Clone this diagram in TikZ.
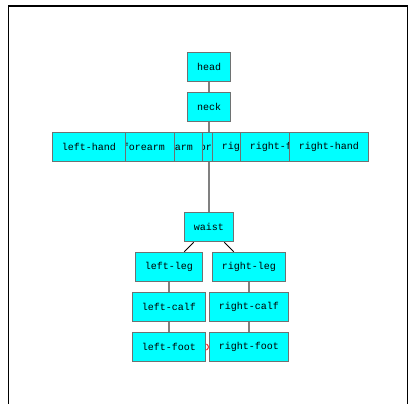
\documentclass[tikz,border=0pt]{standalone}
\usepackage{fontspec}
\setmonofont{Liberation Mono}
\usetikzlibrary{backgrounds,calc}
\definecolor{boxfill}{HTML}{00FFFF}
\definecolor{boxline}{HTML}{6E7272}
\definecolor{edgegray}{HTML}{808080}
\tikzset{
  part/.style={draw=boxline, line width=1.6pt, fill=boxfill, inner xsep=9.5pt, inner ysep=0pt,
    minimum height=29pt, font=\ttfamily\fontsize{10}{12}\selectfont},
  link/.style={draw=edgegray, line width=1.2pt},
  dlink/.style={draw=black, line width=0.9pt},
  frameline/.style={draw=black, line width=1.2pt}
}
\begin{document}
\begin{tikzpicture}[x=1pt,y=-1pt]
\useasboundingbox (0,0) rectangle (415,404);
\draw[frameline] (8.5,404) -- (8.5,6) -- (407.5,6) -- (407.5,404);
\node[part] (head) at (209,67) {head};
\node[part] (neck) at (209,107) {neck};
\node[part] (torso) at (209,147) {torso};
\node[part] (larm) at (169,147) {left-arm};
\node[part] (rarm) at (249,147) {right-arm};
\node[part] (lforearm) at (129,147) {left-forearm};
\node[part] (rforearm) at (289,147) {right-forearm};
\node[part] (lhand) at (89,147) {left-hand};
\node[part] (rhand) at (329,147) {right-hand};
\node[part] (waist) at (209,227) {waist};
\node[part] (lleg) at (169,267) {left-leg};
\node[part] (rleg) at (249,267) {right-leg};
\node[part] (lcalf) at (169,307) {left-calf};
\node[part] (rcalf) at (249,307) {right-calf};
\node[part] (lfoot) at (169,347) {left-foot};
\node[part] (rfoot) at (249,347) {right-foot};
\begin{pgfonlayer}{background}
\draw[link] (head) -- (neck);
\draw[link] (neck) -- (torso);
\draw[link] (torso) -- (waist);
\draw[dlink] (waist) -- (lleg);
\draw[dlink] (waist) -- (rleg);
\draw[link] (lleg) -- (lcalf);
\draw[link] (rleg) -- (rcalf);
\draw[link] (lcalf) -- (lfoot);
\draw[link] (rcalf) -- (rfoot);
\end{pgfonlayer}
\coordinate (mark) at ($(lfoot.east)!0.5!(rfoot.west)$);
\draw[red, line width=0.8pt] ($(mark)+(-1,-3)$) .. controls ($(mark)+(1.5,-1.5)$) and ($(mark)+(1.5,1.5)$) .. ($(mark)+(-1,3)$);
\end{tikzpicture}
\end{document}
